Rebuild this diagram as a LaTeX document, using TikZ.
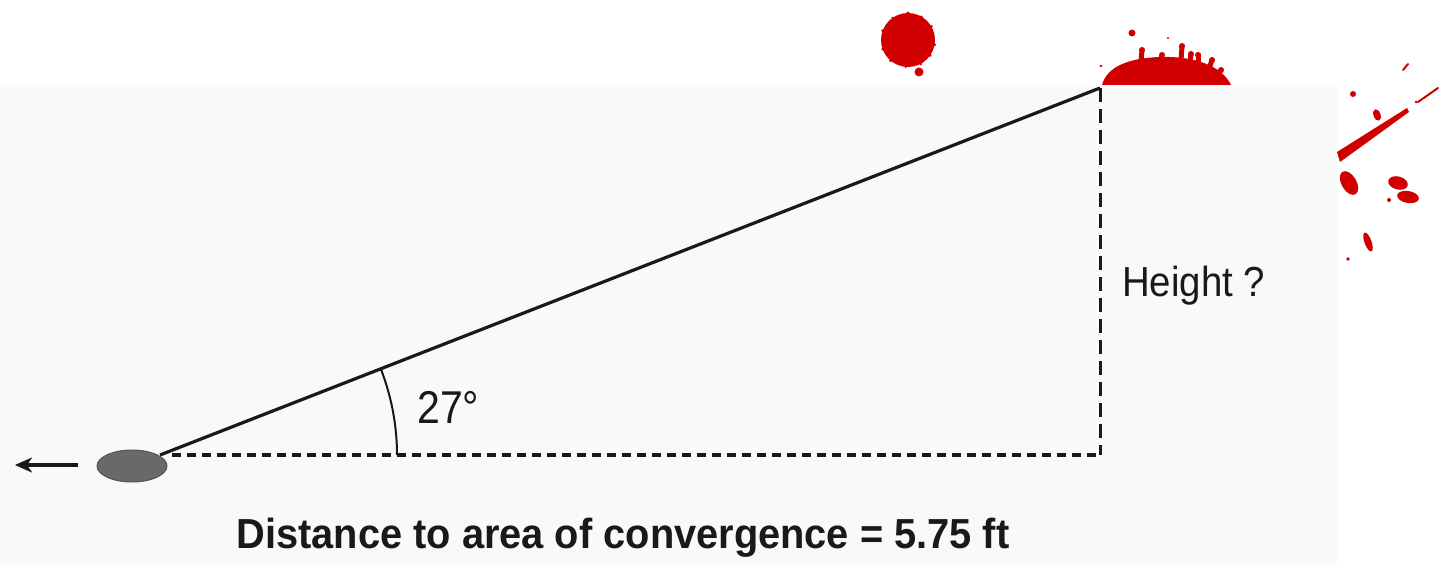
\documentclass[tikz,border=0pt]{standalone}
\usepackage{fontspec}
\usepackage{graphicx}
\setmainfont{Liberation Sans}
\usetikzlibrary{arrows.meta,shapes.geometric}
\definecolor{blood}{RGB}{208,0,0}
\definecolor{paper}{RGB}{249,249,249}
\definecolor{dropgray}{RGB}{105,105,105}
\definecolor{ink}{RGB}{25,25,25}
\tikzset{
  vleg/.style={line width=3pt, dash pattern=on 14pt off 7pt, ink},
  hleg/.style={line width=3.2pt, dash pattern=on 9pt off 6pt, ink},
  hyp/.style={line width=3.2pt, ink},
  label/.style={inner sep=0pt, anchor=base west, text=ink},
  splat/.style={fill=blood, draw=none},
  finger/.style={draw=blood, line width=5pt, line cap=round},
}
\begin{document}
\begin{tikzpicture}[x=1pt,y=-1pt]
  \useasboundingbox (0,0) rectangle (1447,564);
  \fill[white] (0,0) rectangle (1447,564);
  % printed page
  \fill[paper] (0,85) rectangle (1337,564);

  % geometry of the triangle
  \node[ellipse, minimum width=70pt, minimum height=32pt, inner sep=0pt,
        fill=dropgray, draw=dropgray!80!black, line width=1pt] (conv) at (132,466) {};
  \coordinate (start) at (160,455);
  \coordinate (apex) at (1100,88);
  \coordinate (corner) at (1100,455);
  \coordinate (base) at (172,455);
  \coordinate (arrowtail) at (78,465);
  \coordinate (arrowhead) at (15,465);

  \draw[hyp] (start) -- (apex);
  \draw[vleg] (apex) -- (corner);
  \draw[hleg] (base) -- (corner);
  \draw[line width=3.4pt, ink, -{Stealth[length=17pt,width=15pt,inset=5pt]}] (arrowtail) -- (arrowhead);

  % angle mark
  \draw[line width=2pt, ink] (start) ++(237,0) arc[start angle=0, end angle=-21.3, radius=237];

  \node[label, font=\fontsize{46}{50}\selectfont] (ang) at (417,423) {\resizebox{62pt}{\height}{27°}};
  \node[label, font=\fontsize{42}{46}\selectfont] (height) at (1122,296) {\resizebox{143pt}{\height}{Height ?}};
  \node[inner sep=0pt, anchor=base, font=\bfseries\fontsize{42}{46}\selectfont, text=ink] (dist) at (623,548)
    {\resizebox{773pt}{\height}{Distance to area of convergence = 5.75 ft}};

  % falling drop
  \fill[splat] (908,40) circle[radius=27];
  \foreach \a/\r in {10/1.6,35/1.4,62/1.5,95/1.3,130/1.6,160/1.4,200/1.5,235/1.3,270/1.6,300/1.3,330/1.5}
    \fill[splat] (908,40) ++(\a:27) circle[radius=\r];
  \fill[splat] (919,72) circle[radius=4.5];

  % impact splash on the ceiling line
  \fill[splat] (1102,85) .. controls (1107,66) and (1130,58) .. (1160,57)
                         .. controls (1195,56) and (1222,66) .. (1231,85) -- cycle;
  \foreach \bx/\by/\tx/\ty in {1141/62/1142/50, 1161/60/1162/55, 1181/60/1182/46,
                               1190/61/1191/54, 1198/62/1198/55, 1210/66/1212/60, 1220/72/1221/70}
  {
    \draw[finger] (\bx,\by) -- (\tx,\ty);
    \fill[splat] (\tx,\ty) circle[radius=3];
  }
  \fill[splat] (1132,33) circle[radius=3.5];
  \fill[splat] (1168,38) circle[radius=1.2];
  \fill[splat] (1101,66) circle[radius=1.3];

  % spatter on the right
  \fill[splat] (1337,152) -- (1407,108) -- (1409,112) -- (1340,162) -- cycle;
  \draw[blood, line width=2pt, line cap=round] (1418,102) -- (1438,88);
  \draw[blood, line width=2pt, line cap=round] (1403,70) -- (1408,64);
  \fill[splat] (1353,94) circle[radius=3];
  \fill[splat, rotate around={-70:(1377,115)}] (1377,115) ellipse[x radius=6, y radius=3.5];
  \fill[splat, rotate around={-60:(1349,183)}] (1349,183) ellipse[x radius=13, y radius=7.5];
  \fill[splat, rotate around={-15:(1398,183)}] (1398,183) ellipse[x radius=10, y radius=6.5];
  \fill[splat, rotate around={-10:(1408,197)}] (1408,197) ellipse[x radius=11, y radius=6];
  \fill[splat, rotate around={-70:(1368,242)}] (1368,242) ellipse[x radius=10, y radius=3.5];
  \foreach \x/\y/\r in {1389/200/2,1348/259/1.8,1374/130/1.5,1416/102/1.5}
    \fill[splat] (\x,\y) circle[radius=\r];
\end{tikzpicture}
\end{document}
